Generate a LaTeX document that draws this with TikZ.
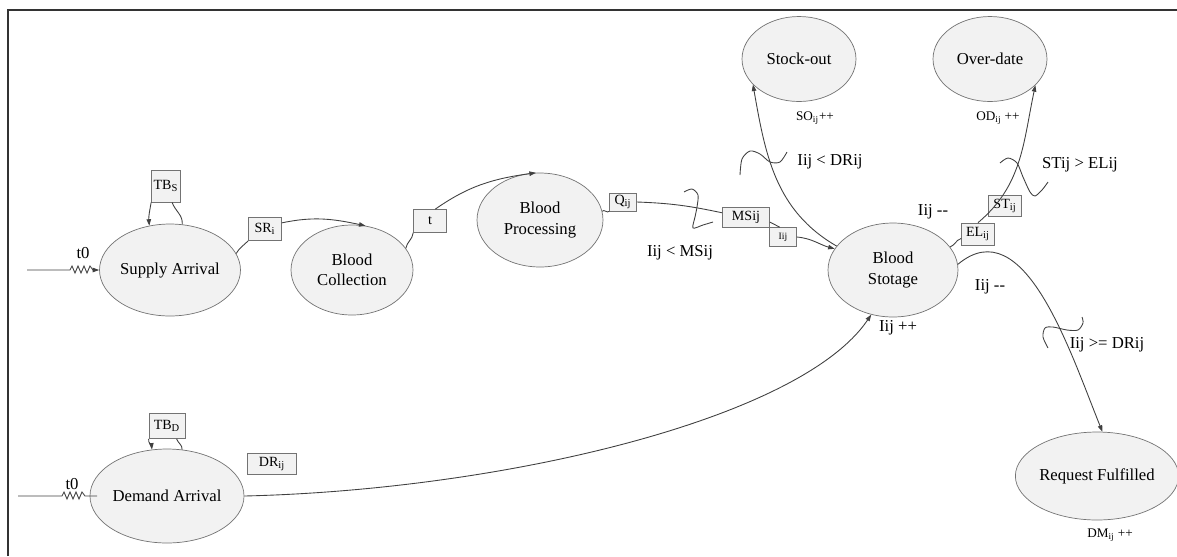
\documentclass[tikz,border=0pt]{standalone}
\usepackage{fontspec}
\setmainfont{Liberation Serif}
\usetikzlibrary{arrows.meta,shapes.geometric}
\tikzset{
  state/.style={ellipse,draw=black!55,fill=black!5,inner sep=0pt,align=center,font=\fontsize{9.5}{11.5}\selectfont},
  cond/.style={rectangle,draw=black!55,fill=black!5,inner sep=0pt,font=\fontsize{8}{9}\selectfont},
  lbl/.style={inner sep=0pt,font=\fontsize{9.5}{11}\selectfont},
  countlbl/.style={inner sep=0pt,font=\fontsize{7.5}{9}\selectfont},
  flow/.style={draw=black!75,line width=0.5pt},
  arr/.style={flow,-{Triangle[length=1.3mm,width=0.9mm]}},
}
\begin{document}
\begin{tikzpicture}[x=0.02cm,y=-0.02cm]
  \useasboundingbox (0,0) rectangle (1177,556);
  \draw[black!80,line width=0.9pt] (8,556) -- (8,10) -- (1177,10); %frame

  % states
  \node[state,minimum width=2.56cm,minimum height=1.84cm] (sa) at (170,270) {Supply Arrival};
  \node[state,minimum width=2.44cm,minimum height=1.80cm] (bc) at (352,270) {Blood\\Collection};
  \node[state,minimum width=2.52cm,minimum height=1.88cm] (bp) at (540,220) {Blood\\Processing};
  \node[state,minimum width=2.28cm,minimum height=1.70cm] (so) at (799,59) {Stock-out};
  \node[state,minimum width=2.28cm,minimum height=1.70cm] (od) at (990,59) {Over-date};
  \node[state,minimum width=2.60cm,minimum height=1.88cm] (bs) at (893,270) {Blood\\Stotage};
  \node[state,minimum width=2.80cm,minimum height=1.76cm] (rf) at (1097,476) {Request Fulfilled};
  \node[state,minimum width=2.68cm,minimum height=1.88cm] (da) at (167,496) {Demand Arrival};

  % boxes
  \node[cond,minimum width=0.58cm,minimum height=0.64cm] (tbs) at (166,186) {TB\textsubscript{S}};
  \node[cond,minimum width=0.66cm,minimum height=0.46cm] (sr) at (265,229) {SR\textsubscript{i}};
  \node[cond,minimum width=0.66cm,minimum height=0.46cm] (tt) at (430,221) {t};
  \node[cond,minimum width=0.54cm,minimum height=0.36cm] (q) at (623,202) {Q\textsubscript{ij}};
  \node[cond,minimum width=0.94cm,minimum height=0.40cm] (ms) at (746,217) {MSij};
  \node[cond,minimum width=0.54cm,minimum height=0.38cm,font=\fontsize{5.5}{6}\selectfont] (ii) at (783,237) {Iij};
  \node[cond,minimum width=0.66cm,minimum height=0.44cm] (el) at (978,234) {EL\textsubscript{ij}};
  \node[cond,minimum width=0.66cm,minimum height=0.42cm] (st) at (1005,206) {ST\textsubscript{ij}};
  \node[cond,minimum width=0.72cm,minimum height=0.50cm] (tbd) at (167,426) {TB\textsubscript{D}};
  \node[cond,minimum width=0.98cm,minimum height=0.42cm] (dr) at (272,464) {DR\textsubscript{ij}};

  % labels
  \node[lbl] (t0s) at (83,253) {t0};
  \node[lbl] (t0d) at (72,484) {t0};
  \node[lbl] (cms) at (680,253) {Iij < MSij};
  \node[lbl] (cdr) at (830,162) {Iij < DRij};
  \node[lbl] (cel) at (1080,165) {STij > ELij};
  \node[lbl] (dec1) at (933,212) {Iij -{}-};
  \node[lbl] (dec2) at (990,287) {Iij -{}-};
  \node[lbl] (inc) at (898,328) {Iij ++};
  \node[lbl] (cge) at (1107,345) {Iij >= DRij};
  \node[countlbl] (cso) at (815,118) {SO\textsubscript{ij}++};
  \node[countlbl] (cod) at (998,118) {OD\textsubscript{ij} ++};
  \node[countlbl] (cdm) at (1110,535) {DM\textsubscript{ij} ++};

  % inputs
  \coordinate (s0) at (27,270);
  \coordinate (d0) at (18,496);
  \coordinate (d1) at (97,496);
  \draw[arr] (s0) -- (70,270) -- (72,266) -- (75,273) -- (78,266) -- (81,273) -- (84,266) -- (87,273) -- (90,266) -- (93,270) -- (sa.west);
  \draw[flow] (d0) -- (62,496) -- (64,492) -- (67,499) -- (70,492) -- (73,499) -- (76,492) -- (79,499) -- (82,492) -- (85,496) -- (d1);

  % loops
  \draw[arr] (tbs.south west) to[out=-100,in=95] (sa.115);
  \draw[flow] (sa.75) to[out=85,in=-70] ([xshift=-5]tbs.south east);
  \draw[arr] (tbd.south west) to[out=-100,in=95] (da.108);
  \draw[flow] (da.72) to[out=85,in=-70] ([xshift=-5]tbd.south east);

  % main chain
  \draw[flow] (sa.14) to[out=60,in=-135] (sr.south west);
  \draw[arr] (sr.20) to[out=12,in=168] (bc.73);
  \draw[flow] (bc.22) to[out=80,in=-95] (tt.south west);
  \draw[arr] ([xshift=3]tt.north) to[out=35,in=188] (bp.95);
  \draw[flow] (bp.8) to[out=60,in=-130] (q.south west);
  \draw[flow] (q.east) to[out=-2,in=168] (ms.170);
  \draw[flow] (ms.-12) -- ([xshift=6]ii.north west);
  \draw[arr] (ii.east) to[out=-5,in=165] (bs.160);

  % outcomes
  \draw[arr] (bs.157) to[out=150,in=-80] (so.209);
  \draw[flow] (bs.22) to[out=20,in=-165] (el.-165);
  \draw[arr] (el.north) to[out=40,in=-102] (od.-30);
  \draw[arr] (bs.5) to[out=40,in=112] (rf.83);
  \draw[arr] (da.east) .. controls (500,490) and (800,420) .. (bs.244);

  % condition marks
  \draw[flow] plot[smooth] coordinates {(684,192) (692,189) (698,195) (697,207) (695,217) (693,228) (703,225) (713,222)};
  \draw[flow] plot[smooth] coordinates {(740,175) (742,159) (750,151) (760,154) (770,162) (780,162) (787,152)};
  \draw[flow] plot[smooth] coordinates {(1000,163) (1008,158) (1017,163) (1023,177) (1030,192) (1035,196) (1042,190) (1048,182)};
  \draw[flow] plot[smooth] coordinates {(1048,348) (1043,337) (1045,328) (1053,327) (1067,330) (1078,330) (1083,323) (1082,317)};
\end{tikzpicture}
\end{document}
